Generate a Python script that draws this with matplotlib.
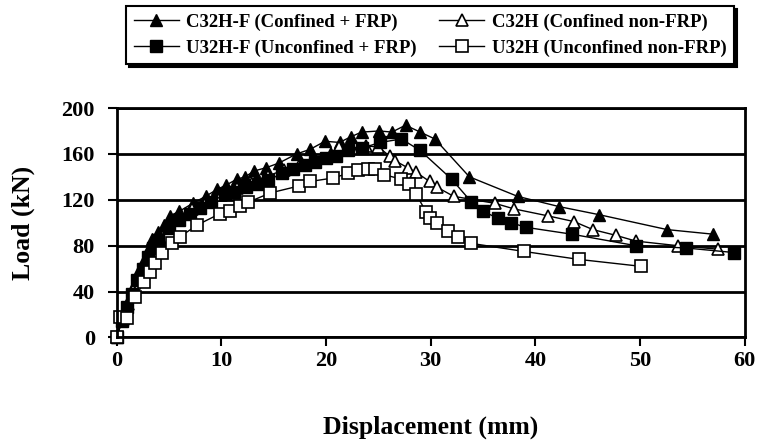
import matplotlib.pyplot as plt

# Load-displacement data
c32hf_disp = [0, 0.5, 1.0, 1.5, 2.0, 2.5, 3.0, 3.4, 4.0, 4.5, 5.1, 6.0, 7.3, 8.5, 9.6, 10.5,
              11.5, 12.3, 13.1, 14.3, 15.5, 17.2, 18.5, 19.9, 21.3, 22.4, 23.4, 25.1, 26.3,
              27.6, 29.0, 30.4, 33.7, 38.3, 42.3, 46.1, 52.6, 57.0]
c32hf_load = [0, 15, 30, 42, 55, 66, 76, 86, 92, 98, 106, 110, 117, 123, 129, 133,
              138, 140, 145, 148, 152, 160, 164, 171, 170, 175, 179, 180, 179,
              185, 179, 173, 140, 123, 114, 107, 94, 90]

c32h_disp = [0, 0.6, 1.1, 1.6, 2.1, 2.6, 3.1, 3.6, 4.2, 5.0, 6.0, 7.2, 8.5, 10.0, 11.5, 13.0,
             14.5, 16.0, 17.5, 19.0, 20.5, 21.2, 22.5, 23.8, 25.0, 26.1, 26.6, 27.8, 28.6,
             29.9, 30.6, 32.2, 36.1, 38.0, 41.2, 43.7, 45.5, 47.7, 49.6, 53.6, 57.4]
c32h_load = [0, 16, 29, 41, 52, 62, 71, 80, 87, 96, 104, 112, 118, 124, 130, 136,
             141, 146, 151, 155, 160, 166, 165, 167, 166, 158, 154, 148, 144,
             136, 131, 123, 117, 112, 106, 101, 94, 89, 84, 80, 77]

u32hf_disp = [0, 0.5, 1.0, 1.5, 2.0, 2.5, 3.0, 3.5, 4.0, 5.0, 6.0, 7.0, 8.0, 9.0, 10.4, 11.2,
              12.4, 13.5, 14.5, 15.8, 16.9, 18.0, 19.0, 20.0, 21.0, 22.1, 23.4, 25.2, 27.2,
              29.0, 32.0, 33.9, 35.0, 36.4, 37.7, 39.1, 43.5, 49.6, 54.4, 59.0]
u32hf_load = [0, 14, 27, 38, 50, 60, 70, 78, 85, 95, 102, 108, 113, 118, 125, 127,
              131, 134, 137, 143, 147, 150, 153, 156, 158, 163, 165, 170, 173,
              163, 138, 118, 110, 104, 100, 96, 90, 80, 78, 74]

u32h_disp = [0, 0.3, 1.0, 1.8, 2.6, 3.2, 3.7, 4.3, 5.3, 6.1, 7.7, 9.9, 10.8, 11.8, 12.6, 14.7,
             17.4, 18.5, 20.7, 22.1, 23.1, 24.0, 24.7, 25.5, 27.2, 27.9, 28.6, 29.6, 29.9,
             30.6, 31.7, 32.6, 33.9, 38.9, 44.2, 50.1]
u32h_load = [0, 18, 17, 35, 48, 57, 65, 74, 82, 88, 98, 108, 110, 115, 118, 126,
             132, 136, 139, 143, 146, 147, 147, 142, 138, 134, 125, 109, 104,
             100, 93, 88, 82, 75, 68, 62]

x_ticks = [0, 10, 20, 30, 40, 50, 60]
y_ticks = [0, 40, 80, 120, 160, 200]

plt.rcParams['font.family'] = ['Liberation Serif', 'DejaVu Serif']
plt.rcParams['font.weight'] = 'bold'

fig = plt.figure(figsize=(7.6, 4.45), dpi=100)
ax = fig.add_axes([0.1533, 0.2416, 0.8267, 0.5157])

ms = 9
h1, = ax.plot(c32hf_disp, c32hf_load, color='black', lw=1, marker='^', ms=ms,
              mfc='black', mec='black', clip_on=False, label='C32H-F (Confined + FRP)')
h2, = ax.plot(c32h_disp, c32h_load, color='black', lw=1, marker='^', ms=ms,
              mfc='white', mec='black', mew=1.2, clip_on=False, label='C32H (Confined non-FRP)')
h3, = ax.plot(u32hf_disp, u32hf_load, color='black', lw=1, marker='s', ms=ms,
              mfc='black', mec='black', clip_on=False, label='U32H-F (Unconfined + FRP)')
h4, = ax.plot(u32h_disp, u32h_load, color='black', lw=1, marker='s', ms=ms,
              mfc='white', mec='black', mew=1.2, clip_on=False, label='U32H (Unconfined non-FRP)')

ax.set_xlim(0, 60)
ax.set_ylim(0, 200)
ax.set_xticks(x_ticks)
ax.set_yticks(y_ticks)
ax.yaxis.grid(True, color='black', lw=2)
ax.set_axisbelow(True)
for s in ax.spines.values():
    s.set_linewidth(2)
ax.tick_params(axis='both', direction='out', length=6.5, width=1.5, labelsize=16)
ax.tick_params(axis='x', pad=3)
ax.tick_params(axis='y', pad=9)

ax.set_xlabel('Displacement (mm)', fontsize=18.5, fontweight='bold', labelpad=32)
ax.set_ylabel('Load (kN)', fontsize=18.5, fontweight='bold', labelpad=19)

leg = fig.legend([h1, h3, h2, h4],
                 [h1.get_label(), h3.get_label(), h2.get_label(), h4.get_label()],
                 ncol=2, loc='upper center', bbox_to_anchor=(0.566, 1.007),
                 frameon=True, fancybox=False,
                 shadow={'color': 'black', 'alpha': 1},
                 edgecolor='black', handlelength=2.4, handletextpad=0.4,
                 columnspacing=1.2, labelspacing=0.45, borderpad=0.4,
                 prop={'weight': 'bold', 'size': 13.5})
leg.get_frame().set_linewidth(1.5)

fig.savefig('out.png', dpi=100)
